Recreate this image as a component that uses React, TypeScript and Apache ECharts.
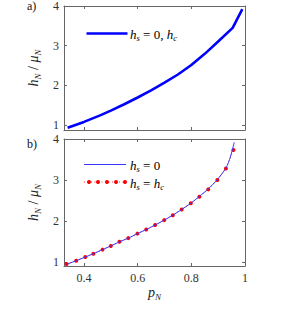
import React, { useEffect, useRef } from "react";
import * as echarts from "echarts";

// Panel a) curve
const topX = [0.339, 0.4, 0.46, 0.5, 0.55, 0.6, 0.65, 0.7, 0.75, 0.8, 0.85, 0.9, 0.954, 0.99];
const topY = [0.93, 1.079, 1.244, 1.364, 1.524, 1.694, 1.874, 2.067, 2.274, 2.514, 2.794, 3.104, 3.45, 3.92];

// Panel b) red markers (h_s = h_c)
const redX = [0.335, 0.371, 0.405, 0.435, 0.469, 0.5, 0.532, 0.565, 0.599, 0.632, 0.665, 0.699, 0.731, 0.764, 0.798, 0.83, 0.863, 0.897, 0.929, 0.957];
const redY = [0.95, 1.03, 1.12, 1.2, 1.3, 1.39, 1.49, 1.58, 1.69, 1.79, 1.9, 2.02, 2.14, 2.28, 2.43, 2.59, 2.77, 3.0, 3.28, 3.73];

// Panel b) blue line (h_s = 0)
const blueX = [0.335, 0.371, 0.405, 0.435, 0.469, 0.5, 0.532, 0.565, 0.599, 0.632, 0.665, 0.699, 0.731, 0.764, 0.798, 0.83, 0.863, 0.897, 0.93, 0.945, 0.96];
const blueY = [0.94, 1.03, 1.12, 1.2, 1.3, 1.39, 1.49, 1.58, 1.69, 1.79, 1.9, 2.02, 2.14, 2.28, 2.43, 2.6, 2.78, 3.01, 3.3, 3.55, 3.92];

const xTicks = [0.4, 0.6, 0.8, 1];
const yTicks = [1, 2, 3, 4];

const SERIF = "Liberation Serif";
const AXIS_COLOR = "#666";
const LABEL_COLOR = "#333";

const rich = {
  i: { fontFamily: SERIF, fontStyle: "italic", fontSize: 14, color: "#222", lineHeight: 18 },
  n: { fontFamily: SERIF, fontSize: 14, color: "#222", lineHeight: 18 },
  s: { fontFamily: SERIF, fontStyle: "italic", fontSize: 9, color: "#222", lineHeight: 10, verticalAlign: "bottom" },
};

const legRich = {
  i: { fontFamily: SERIF, fontStyle: "italic", fontSize: 13, color: "#222", lineHeight: 16 },
  n: { fontFamily: SERIF, fontSize: 13, color: "#222", lineHeight: 16 },
  s: { fontFamily: SERIF, fontStyle: "italic", fontSize: 8.5, color: "#222", lineHeight: 9, verticalAlign: "bottom" },
};

function zip(xs: number[], ys: number[]) {
  return xs.map((x, i) => [x, ys[i]]);
}

export default function App() {
  const ref = useRef<HTMLDivElement>(null);
  useEffect(() => {
    if (!ref.current) return;
    const chart = echarts.init(ref.current, null, { renderer: "svg" });

    const xMin = 0.3255;
    const mainX = (gridIndex: number, showLabels: boolean) => ({
      type: "value",
      gridIndex,
      min: xMin,
      max: 1,
      position: "bottom",
      axisLine: { show: true, onZero: false, lineStyle: { color: AXIS_COLOR, width: 1 } },
      axisTick: { show: true, inside: true, length: 3, customValues: xTicks, lineStyle: { color: AXIS_COLOR } },
      axisLabel: {
        show: showLabels,
        customValues: xTicks,
        fontFamily: SERIF,
        fontSize: 12,
        color: LABEL_COLOR,
        margin: 6,
        formatter: (v: number) => String(Math.round(v * 10) / 10),
      },
      splitLine: { show: false },
      ...(showLabels
        ? {
            name: "{i|p}{s|N}",
            nameLocation: "middle",
            nameGap: 17,
            nameTextStyle: { rich },
          }
        : {}),
    });
    const mirrorX = (gridIndex: number) => ({
      type: "value",
      gridIndex,
      min: xMin,
      max: 1,
      position: "top",
      axisLine: { show: true, onZero: false, lineStyle: { color: AXIS_COLOR, width: 1 } },
      axisTick: { show: true, inside: true, length: 3, customValues: xTicks, lineStyle: { color: AXIS_COLOR } },
      axisLabel: { show: false },
      splitLine: { show: false },
    });
    const mainY = (gridIndex: number, min: number) => ({
      type: "value",
      gridIndex,
      min,
      max: 4,
      position: "left",
      axisLine: { show: true, onZero: false, lineStyle: { color: AXIS_COLOR, width: 1 } },
      axisTick: { show: true, inside: true, length: 3, customValues: yTicks, lineStyle: { color: AXIS_COLOR } },
      axisLabel: {
        show: true,
        customValues: yTicks,
        fontFamily: SERIF,
        fontSize: 12,
        color: LABEL_COLOR,
        margin: 5,
      },
      splitLine: { show: false },
      name: "{i|h}{s|N}{n| / }{i|μ}{s|N}",
      nameLocation: "middle",
      nameRotate: 90,
      nameGap: 22,
      nameTextStyle: { rich },
    });
    const mirrorY = (gridIndex: number, min: number) => ({
      type: "value",
      gridIndex,
      min,
      max: 4,
      position: "right",
      axisLine: { show: true, onZero: false, lineStyle: { color: AXIS_COLOR, width: 1 } },
      axisTick: { show: true, inside: true, length: 3, customValues: yTicks, lineStyle: { color: AXIS_COLOR } },
      axisLabel: { show: false },
      splitLine: { show: false },
    });

    const txt = (x: number, y: number, text: string, richObj: any) => ({
      type: "text",
      x,
      y,
      style: { text, rich: richObj, verticalAlign: "middle", align: "left" },
    });

    chart.setOption({
      animation: false,
      backgroundColor: "#fff",
      grid: [
        { left: 64, top: 5, width: 181, height: 125 },
        { left: 64, top: 139, width: 181, height: 127 },
      ],
      xAxis: [mainX(0, false), mirrorX(0), mainX(1, true), mirrorX(1)],
      yAxis: [mainY(0, 0.875), mirrorY(0, 0.875), mainY(1, 0.9), mirrorY(1, 0.9)],
      series: [
        {
          type: "line",
          name: "a",
          xAxisIndex: 0,
          yAxisIndex: 0,
          data: zip(topX, topY),
          smooth: false,
          showSymbol: false,
          symbol: "none",
          lineStyle: { color: "#0000ff", width: 2.6, join: "round" },
        },
        {
          type: "line",
          name: "b-red",
          xAxisIndex: 2,
          yAxisIndex: 2,
          data: zip(redX, redY),
          symbol: "circle",
          symbolSize: 4,
          itemStyle: { color: "#ff0000" },
          lineStyle: { color: "#ff3030", width: 1, type: [1, 2.5] },
          z: 2,
        },
        {
          type: "line",
          name: "b-blue",
          xAxisIndex: 2,
          yAxisIndex: 2,
          data: zip(blueX, blueY),
          symbol: "none",
          smooth: 0.2,
          lineStyle: { color: "#3535ff", width: 1 },
          z: 3,
        },
      ],
      graphic: [
        { type: "text", x: 27, y: 6, style: { text: "a)", font: `12px "${SERIF}"`, fill: "#111", verticalAlign: "middle" } },
        { type: "text", x: 27, y: 144, style: { text: "b)", font: `12px "${SERIF}"`, fill: "#111", verticalAlign: "middle" } },
        // legend a
        { type: "line", shape: { x1: 86.5, y1: 33.5, x2: 127.5, y2: 33.5 }, style: { stroke: "#0000ff", lineWidth: 2.6 } },
        txt(130, 34, "{i|h}{s|s}{n| = 0, }{i|h}{s|c}", legRich),
        // legend b
        { type: "line", shape: { x1: 84, y1: 164.5, x2: 126, y2: 164.5 }, style: { stroke: "#3535ff", lineWidth: 1 } },
        txt(130, 165, "{i|h}{s|s}{n| = 0}", legRich),
        { type: "line", shape: { x1: 84, y1: 182, x2: 126, y2: 182 }, style: { stroke: "#ff3030", lineWidth: 1, lineDash: [1, 2.5] } },
        ...[89, 98, 107, 116, 125].map((cx) => ({
          type: "circle",
          shape: { cx, cy: 182, r: 2 },
          style: { fill: "#ff0000" },
        })),
        txt(130, 183, "{i|h}{s|s}{n| = }{i|h}{s|c}", legRich),
      ],
    });
    return () => chart.dispose();
  }, []);
  return <div ref={ref} style={{ position: "absolute", left: 0, top: 0, width: 302, height: 321 }} />;
}
